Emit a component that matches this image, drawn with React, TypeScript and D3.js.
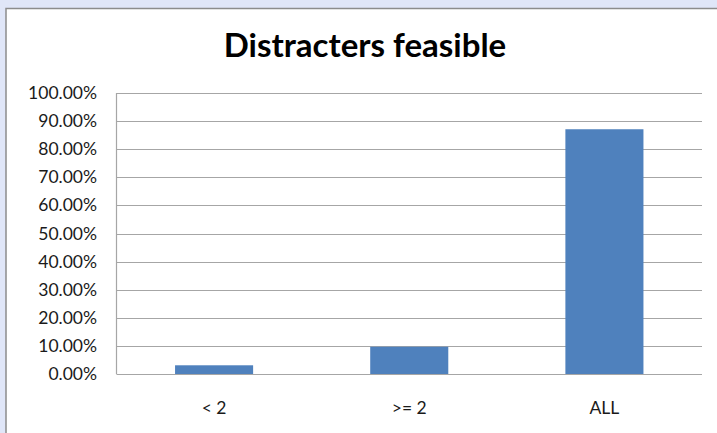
import { useEffect, useRef } from "react";
import * as d3 from "d3";

const categories = ["< 2", ">= 2", "ALL"];
const values = [0.031, 0.097, 0.871];
const yTicks = [0, 0.1, 0.2, 0.3, 0.4, 0.5, 0.6, 0.7, 0.8, 0.9, 1.0];
const title = "Distracters feasible";

const W = 717;
const H = 433;
const FONT = "Lato, 'Open Sans', sans-serif";

function App() {
  const svgRef = useRef<SVGSVGElement | null>(null);

  useEffect(() => {
    if (!svgRef.current) return;
    const svg = d3.select(svgRef.current);
    svg.selectAll("*").remove();

    // page background + chart frame
    svg.append("rect").attr("width", W).attr("height", H).attr("fill", "#e0e6f8");
    svg
      .append("rect")
      .attr("x", 6)
      .attr("y", 8.5)
      .attr("width", W)
      .attr("height", H)
      .attr("fill", "#fff")
      .attr("stroke", "#8c8c8c")
      .attr("stroke-width", 1.5);

    const plot = { left: 116.5, right: 702, top: 93, bottom: 374 };

    const x = d3
      .scaleBand<string>()
      .domain(categories)
      .range([plot.left, plot.right])
      .paddingInner(0.6)
      .paddingOuter(0.3);
    const y = d3.scaleLinear().domain([0, 1]).range([plot.bottom, plot.top]);

    svg
      .append("text")
      .attr("x", 365)
      .attr("y", 57)
      .attr("text-anchor", "middle")
      .attr("font-family", FONT)
      .attr("font-weight", "bold")
      .attr("font-size", 33)
      .attr("fill", "#000")
      .text(title);

    // gridlines
    svg
      .append("g")
      .selectAll("line")
      .data(yTicks.slice(1))
      .enter()
      .append("line")
      .attr("x1", plot.left)
      .attr("x2", plot.right)
      .attr("y1", (d) => Math.round(y(d)) + 0.5)
      .attr("y2", (d) => Math.round(y(d)) + 0.5)
      .attr("stroke", "#a6a6a6")
      .attr("stroke-width", 1.2);

    // y tick labels
    svg
      .append("g")
      .selectAll("text")
      .data(yTicks)
      .enter()
      .append("text")
      .attr("x", 97)
      .attr("y", (d) => y(d) + 6)
      .attr("text-anchor", "end")
      .attr("font-family", FONT)
      .attr("font-size", 17.5)
      .attr("fill", "#1a1a1a")
      .text((d) => d3.format(".2%")(d));

    // bars
    svg
      .append("g")
      .selectAll("rect")
      .data(values)
      .enter()
      .append("rect")
      .attr("x", (_, i) => x(categories[i])!)
      .attr("y", (d) => y(d))
      .attr("width", x.bandwidth())
      .attr("height", (d) => plot.bottom - y(d))
      .attr("fill", "#4f81bd");

    // axes lines
    svg
      .append("line")
      .attr("x1", plot.left)
      .attr("x2", plot.left)
      .attr("y1", plot.top)
      .attr("y2", plot.bottom)
      .attr("stroke", "#a6a6a6")
      .attr("stroke-width", 1.2);
    svg
      .append("line")
      .attr("x1", plot.left)
      .attr("x2", plot.right)
      .attr("y1", plot.bottom + 0.5)
      .attr("y2", plot.bottom + 0.5)
      .attr("stroke", "#a6a6a6")
      .attr("stroke-width", 1.2);

    // category labels
    svg
      .append("g")
      .selectAll("text")
      .data(categories)
      .enter()
      .append("text")
      .attr("x", (d) => x(d)! + x.bandwidth() / 2)
      .attr("y", 414)
      .attr("text-anchor", "middle")
      .attr("font-family", FONT)
      .attr("font-size", 17.5)
      .attr("fill", "#1a1a1a")
      .text((d) => d);
  }, []);

  return (
    <svg
      ref={svgRef}
      width={W}
      height={H}
      style={{ position: "absolute", left: 0, top: 0, display: "block" }}
    />
  );
}

export default App;
